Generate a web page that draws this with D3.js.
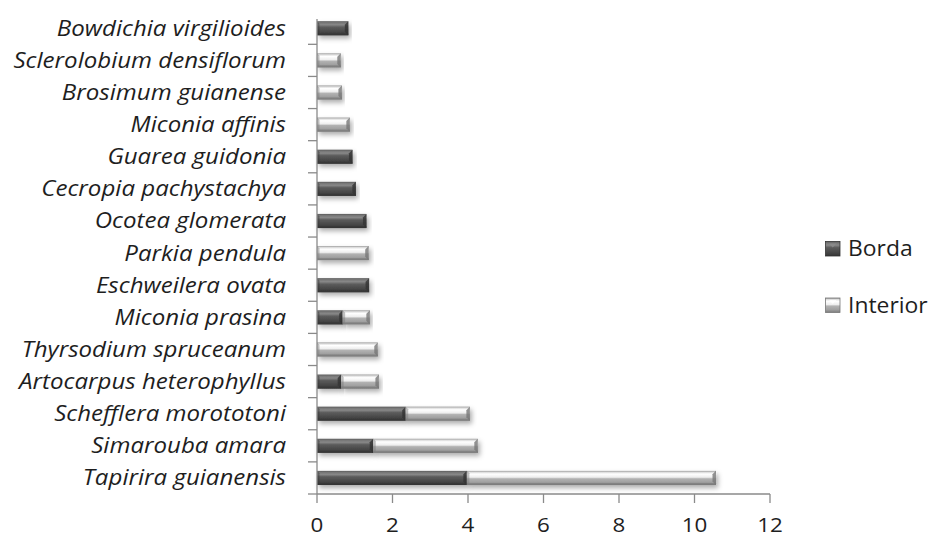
<!DOCTYPE html>
<html>
<head>
<meta charset="utf-8">
<script src="https://cdn.jsdelivr.net/npm/d3@7"></script>
<style>
  html, body { margin: 0; padding: 0; background: #ffffff; }
  svg { display: block; }
</style>
</head>
<body>
<svg id="chart" width="929" height="539"></svg>
<script>
// ---- data (top to bottom as shown) ----
const categories = [
  "Bowdichia virgilioides",
  "Sclerolobium densiflorum",
  "Brosimum guianense",
  "Miconia affinis",
  "Guarea guidonia",
  "Cecropia pachystachya",
  "Ocotea glomerata",
  "Parkia pendula",
  "Eschweilera ovata",
  "Miconia prasina",
  "Thyrsodium spruceanum",
  "Artocarpus heterophyllus",
  "Schefflera morototoni",
  "Simarouba amara",
  "Tapirira guianensis"
];
const borda    = [0.83, 0, 0, 0, 0.94, 1.03, 1.31, 0, 1.38, 0.68, 0, 0.64, 2.35, 1.49, 3.97];
const interior = [0, 0.63, 0.66, 0.87, 0, 0, 0, 1.37, 0, 0.72, 1.61, 1.00, 1.70, 2.77, 6.60];
const seriesNames = ["Borda", "Interior"];
const xTicks = [0, 2, 4, 6, 8, 10, 12];

// ---- build table ----
const table = categories.map((c, i) => ({ cat: c, Borda: borda[i], Interior: interior[i] }));
const stacked = d3.stack().keys(seriesNames)(table);

const svg = d3.select("#chart");
const axisColor = "#8a8a8a";

const x = d3.scaleLinear().domain([0, 12]).range([317, 770]);
const y = d3.scaleBand().domain(categories).range([12.2, 494])
  .paddingInner(0.56).paddingOuter(0.28);

// ---- defs: gradients + shadow ----
const defs = svg.append("defs");
const grads = {
  Borda: [[0, "#5a5a5a"], [0.1, "#767676"], [0.25, "#888888"], [0.42, "#5c5c5c"], [0.7, "#4a4a4a"], [1, "#363636"]],
  Interior: [[0, "#9c9c9c"], [0.1, "#dcdcdc"], [0.22, "#ffffff"], [0.45, "#eeeeee"], [0.56, "#b2b2b2"], [0.8, "#a0a0a0"], [1, "#7c7c7c"]]
};
Object.entries(grads).forEach(([k, stops]) => {
  const g = defs.append("linearGradient").attr("id", "g-" + k)
    .attr("x1", 0).attr("y1", 0).attr("x2", 0).attr("y2", 1);
  stops.forEach(s => g.append("stop").attr("offset", s[0]).attr("stop-color", s[1]));
});
const endCols = { Borda: "#333333", Interior: "#777777" };
const f = defs.append("filter").attr("id", "shadow")
  .attr("x", "-5%").attr("y", "-60%").attr("width", "115%").attr("height", "240%");
f.append("feDropShadow").attr("dx", 2).attr("dy", 3).attr("stdDeviation", 2.5)
  .attr("flood-color", "#000").attr("flood-opacity", 0.32);

// ---- bars ----
const barLayer = svg.append("g");
stacked.forEach(layer => {
  const key = layer.key;
  const g = barLayer.append("g").attr("class", "series-" + key);
  const segs = layer.filter(d => d[1] - d[0] > 0);
  const sel = g.selectAll("g.seg").data(segs).join("g").attr("class", "seg")
    .attr("filter", "url(#shadow)");
  sel.append("rect")
    .attr("x", d => x(d[0]))
    .attr("y", d => y(d.data.cat))
    .attr("width", d => x(d[1]) - x(d[0]))
    .attr("height", y.bandwidth())
    .attr("fill", "url(#g-" + key + ")");
  // right bevel
  sel.append("path")
    .attr("d", d => {
      const x1 = x(d[1]), y0 = y(d.data.cat), h = y.bandwidth();
      const b = 3.5;
      return `M${x1 - b},${y0 + b} L${x1},${y0} L${x1},${y0 + h} L${x1 - b},${y0 + h - b} Z`;
    })
    .attr("fill", endCols[key]).attr("opacity", 0.8);
  // left bevel
  sel.append("path")
    .attr("d", d => {
      const x0 = x(d[0]), y0 = y(d.data.cat), h = y.bandwidth();
      const b = 2.5;
      return `M${x0},${y0} L${x0 + b},${y0 + b} L${x0 + b},${y0 + h - b} L${x0},${y0 + h} Z`;
    })
    .attr("fill", endCols[key]).attr("opacity", 0.45);
  // bottom bevel line
  sel.append("rect")
    .attr("x", d => x(d[0]))
    .attr("y", d => y(d.data.cat) + y.bandwidth() - 2)
    .attr("width", d => x(d[1]) - x(d[0]))
    .attr("height", 2)
    .attr("fill", endCols[key]).attr("opacity", 0.5);
});

// ---- axes ----
const axisG = svg.append("g").attr("stroke", axisColor).attr("stroke-width", 1.3);
axisG.append("line").attr("x1", x(0)).attr("x2", x(0)).attr("y1", 19).attr("y2", 494);
const step = y.step();
axisG.selectAll("line.yt").data(categories).join("line").attr("class", "yt")
  .attr("x1", x(0) - 9).attr("x2", x(0))
  .attr("y1", d => y(d) - y.paddingOuter() * step + step)
  .attr("y2", d => y(d) - y.paddingOuter() * step + step);
axisG.append("line").attr("x1", x(0)).attr("x2", x(12)).attr("y1", 494).attr("y2", 494);
axisG.selectAll("line.xt").data(xTicks).join("line").attr("class", "xt")
  .attr("x1", d => x(d)).attr("x2", d => x(d)).attr("y1", 494).attr("y2", 503);

// x tick labels
svg.append("g").selectAll("text").data(xTicks).join("text")
  .attr("transform", d => `translate(${x(d)},532) scale(1.12,1)`)
  .attr("text-anchor", "middle")
  .attr("font-family", "'Open Sans', sans-serif")
  .attr("font-size", 20)
  .attr("fill", "#1e1e1e")
  .text(d => d);

// category labels
svg.append("g").selectAll("text").data(categories).join("text")
  .attr("transform", d => `translate(286,${y(d) + y.bandwidth() / 2 + 7.5}) scale(1.12,1)`)
  .attr("text-anchor", "end")
  .attr("font-family", "'Open Sans', sans-serif")
  .attr("font-style", "italic")
  .attr("font-size", 21.5)
  .attr("fill", "#1e1e1e")
  .text(d => d);

// ---- legend ----
const legend = svg.append("g");
const legY = [241.5, 298];
seriesNames.forEach((s, i) => {
  legend.append("rect")
    .attr("x", 825.5).attr("y", legY[i]).attr("width", 14.5).attr("height", 14.5)
    .attr("fill", "url(#g-" + s + ")")
    .attr("stroke", endCols[s]).attr("stroke-width", 0.8);
  legend.append("path")
    .attr("d", `M${829},${legY[i] + 2} L${836.5},${legY[i] + 2} L${832.75},${legY[i] + 6} Z`)
    .attr("fill", s === "Borda" ? "#8c8c8c" : "#ffffff").attr("opacity", 0.8);
  legend.append("text")
    .attr("transform", `translate(848,${legY[i] + 14.5}) scale(1.04,1)`)
    .attr("font-family", "'Open Sans', sans-serif")
    .attr("font-size", 22)
    .attr("fill", "#1e1e1e")
    .text(s);
});
</script>
</body>
</html>
